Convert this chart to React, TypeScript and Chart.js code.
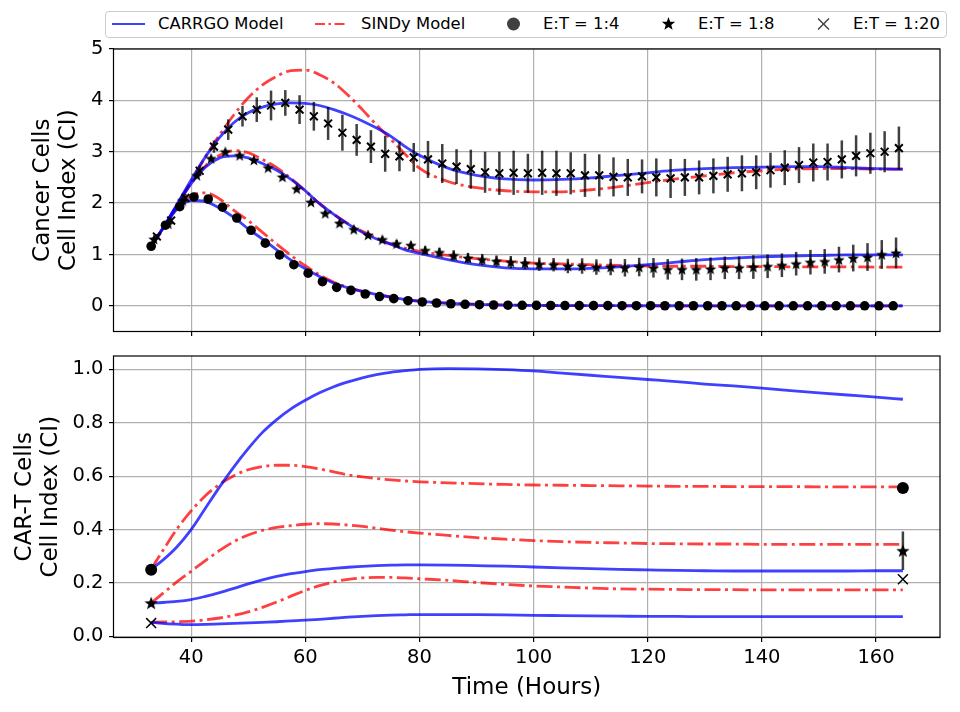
import React, { useEffect, useRef } from "react";
import { Chart, registerables } from "chart.js";

Chart.register(...registerables);
Chart.defaults.font.family = "DejaVu Sans";
Chart.defaults.color = "#000";

// ---- measured data (hours / cell index) ----
const TIME_4 = [33, 35.5, 38, 40.5, 43, 45.5, 48, 50.5, 53, 55.5, 58, 60.5, 63, 65.5, 68, 70.5, 73, 75.5, 78, 80.5, 83, 85.5, 88, 90.5, 93, 95.5, 98, 100.5, 103, 105.5, 108, 110.5, 113, 115.5, 118, 120.5, 123, 125.5, 128, 130.5, 133, 135.5, 138, 140.5, 143, 145.5, 148, 150.5, 153, 155.5, 158, 160.5, 163];
const TIME_8 = [33.5, 36, 38.5, 41, 43.5, 46, 48.5, 51, 53.5, 56, 58.5, 61, 63.5, 66, 68.5, 71, 73.5, 76, 78.5, 81, 83.5, 86, 88.5, 91, 93.5, 96, 98.5, 101, 103.5, 106, 108.5, 111, 113.5, 116, 118.5, 121, 123.5, 126, 128.5, 131, 133.5, 136, 138.5, 141, 143.5, 146, 148.5, 151, 153.5, 156, 158.5, 161, 163.5];
const TIME_20 = [34, 36.5, 39, 41.5, 44, 46.5, 49, 51.5, 54, 56.5, 59, 61.5, 64, 66.5, 69, 71.5, 74, 76.5, 79, 81.5, 84, 86.5, 89, 91.5, 94, 96.5, 99, 101.5, 104, 106.5, 109, 111.5, 114, 116.5, 119, 121.5, 124, 126.5, 129, 131.5, 134, 136.5, 139, 141.5, 144, 146.5, 149, 151.5, 154, 156.5, 159, 161.5, 164];

const CANCER_4 = [
  1.16, 1.57, 1.93, 2.12, 2.08, 1.92, 1.71, 1.47, 1.22, 0.99,
  0.8, 0.635, 0.47, 0.36, 0.3, 0.23, 0.18, 0.14, 0.1, 0.075,
  0.055, 0.04, 0.03, 0.022, 0.016, 0.012, 0.01, 0.008, 0.006, 0.005,
  0.004, 0.003, 0.003, 0.002, 0.002, 0.002, 0.001, 0.001, 0.001, 0.001,
  0.001, 0, 0, 0, 0, 0, 0, 0, 0, 0,
  0, 0, 0,
];
const CANCER_8 = [
  1.3, 1.6, 2.05, 2.54, 2.87, 3.0, 2.93, 2.84, 2.69, 2.51,
  2.28, 2.02, 1.8, 1.61, 1.49, 1.38, 1.29, 1.21, 1.18, 1.08,
  1.04, 0.98, 0.93, 0.9, 0.87, 0.85, 0.83, 0.81, 0.8, 0.775,
  0.775, 0.755, 0.755, 0.74, 0.755, 0.74, 0.71, 0.71, 0.71, 0.72,
  0.74, 0.74, 0.755, 0.77, 0.79, 0.82, 0.85, 0.865, 0.9, 0.93,
  0.95, 1.0, 1.03,
];
const CANCER_8_ERR = [
  0.04, 0.05, 0.05, 0.05, 0.05, 0.05, 0.05, 0.05, 0.05, 0.05,
  0.05, 0.05, 0.05, 0.05, 0.06, 0.06, 0.06, 0.07, 0.07, 0.08,
  0.09, 0.1, 0.1, 0.11, 0.11, 0.12, 0.12, 0.13, 0.13, 0.14,
  0.15, 0.15, 0.16, 0.17, 0.18, 0.19, 0.2, 0.21, 0.22, 0.22,
  0.22, 0.22, 0.23, 0.23, 0.23, 0.23, 0.24, 0.24, 0.25, 0.26,
  0.27, 0.28, 0.3,
];
const CANCER_20 = [
  1.35, 1.66, 2.1, 2.63, 3.1, 3.43, 3.69, 3.82, 3.9, 3.95,
  3.82, 3.69, 3.55, 3.37, 3.23, 3.1, 2.96, 2.91, 2.89, 2.85,
  2.77, 2.71, 2.66, 2.6, 2.58, 2.59, 2.58, 2.59, 2.58, 2.58,
  2.54, 2.54, 2.51, 2.5, 2.52, 2.5, 2.48, 2.5, 2.5, 2.53,
  2.56, 2.58, 2.6, 2.64, 2.69, 2.74, 2.79, 2.8, 2.85, 2.92,
  2.97, 3.0, 3.07,
];
const CANCER_20_ERR = [
  0.05, 0.06, 0.08, 0.1, 0.12, 0.2, 0.2, 0.24, 0.29, 0.25,
  0.28, 0.28, 0.32, 0.35, 0.31, 0.32, 0.35, 0.29, 0.28, 0.36,
  0.38, 0.34, 0.38, 0.4, 0.42, 0.43, 0.38, 0.43, 0.44, 0.41,
  0.42, 0.41, 0.38, 0.36, 0.33, 0.37, 0.38, 0.36, 0.33, 0.34,
  0.34, 0.35, 0.33, 0.34, 0.34, 0.35, 0.37, 0.36, 0.37, 0.4,
  0.4, 0.4, 0.42,
];

// model curves, sampled at MODEL_T
const MODEL_T = [33, 35, 37.5, 40, 42.5, 45, 47.5, 50, 52.5, 55, 57.5, 60, 62.5, 65, 67.5, 70, 72.5, 75, 77.5, 80, 85, 90, 95, 100, 105, 110, 115, 120, 125, 130, 135, 140, 145, 150, 155, 160, 164.7];

const CARRGO_CANCER_20 = [1.16, 1.5, 1.97, 2.45, 2.9, 3.28, 3.57, 3.76, 3.87, 3.93, 3.95, 3.94, 3.9, 3.82, 3.72, 3.6, 3.46, 3.3, 3.1, 2.93, 2.68, 2.54, 2.47, 2.45, 2.46, 2.49, 2.54, 2.59, 2.64, 2.67, 2.69, 2.7, 2.71, 2.71, 2.69, 2.67, 2.66];
const SINDY_CANCER_20 = [1.16, 1.48, 1.95, 2.42, 2.9, 3.33, 3.72, 4.05, 4.3, 4.47, 4.58, 4.59, 4.5, 4.34, 4.1, 3.82, 3.52, 3.24, 2.95, 2.68, 2.42, 2.3, 2.24, 2.22, 2.22, 2.26, 2.32, 2.4, 2.47, 2.53, 2.59, 2.63, 2.66, 2.67, 2.67, 2.66, 2.66];
const CARRGO_CANCER_8 = [1.16, 1.5, 1.96, 2.38, 2.7, 2.88, 2.92, 2.88, 2.77, 2.64, 2.46, 2.24, 1.99, 1.78, 1.59, 1.43, 1.3, 1.2, 1.09, 1.02, 0.9, 0.8, 0.74, 0.72, 0.72, 0.73, 0.76, 0.8, 0.85, 0.9, 0.93, 0.955, 0.97, 0.98, 0.99, 0.99, 0.99];
const SINDY_CANCER_8 = [1.16, 1.48, 1.95, 2.38, 2.72, 2.93, 3.02, 2.98, 2.85, 2.69, 2.48, 2.24, 1.99, 1.78, 1.6, 1.45, 1.32, 1.2, 1.12, 1.06, 0.98, 0.92, 0.87, 0.83, 0.815, 0.8, 0.785, 0.775, 0.77, 0.77, 0.765, 0.765, 0.76, 0.76, 0.76, 0.755, 0.755];
const CARRGO_CANCER_4 = [1.16, 1.5, 1.88, 2.05, 2.03, 1.9, 1.72, 1.5, 1.3, 1.09, 0.89, 0.72, 0.57, 0.44, 0.35, 0.28, 0.22, 0.17, 0.12, 0.09, 0.05, 0.03, 0.015, 0.008, 0.004, 0.003, 0.002, 0.001, 0.001, 0, 0, 0, 0, 0, 0, 0, 0];
const SINDY_CANCER_4 = [1.16, 1.5, 1.9, 2.14, 2.2, 2.08, 1.86, 1.66, 1.43, 1.2, 0.98, 0.78, 0.6, 0.46, 0.36, 0.28, 0.22, 0.17, 0.12, 0.09, 0.05, 0.03, 0.015, 0.008, 0.004, 0.003, 0.002, 0.001, 0.001, 0, 0, 0, 0, 0, 0, 0, 0];

const CARRGO_CART_4 = [0.252, 0.285, 0.335, 0.4, 0.48, 0.56, 0.635, 0.703, 0.764, 0.812, 0.852, 0.884, 0.912, 0.935, 0.953, 0.968, 0.98, 0.989, 0.995, 1.0, 1.003, 1.002, 0.999, 0.994, 0.986, 0.978, 0.97, 0.962, 0.954, 0.945, 0.938, 0.93, 0.92, 0.912, 0.904, 0.896, 0.888];
const SINDY_CART_4 = [0.252, 0.32, 0.402, 0.47, 0.527, 0.57, 0.602, 0.624, 0.636, 0.641, 0.641, 0.636, 0.627, 0.616, 0.605, 0.597, 0.591, 0.586, 0.582, 0.579, 0.575, 0.572, 0.569, 0.567, 0.566, 0.565, 0.564, 0.563, 0.562, 0.562, 0.561, 0.561, 0.561, 0.56, 0.56, 0.56, 0.56];
const CARRGO_CART_8 = [0.125, 0.127, 0.131, 0.138, 0.15, 0.164, 0.18, 0.197, 0.212, 0.225, 0.235, 0.243, 0.25, 0.255, 0.259, 0.262, 0.265, 0.267, 0.268, 0.268, 0.267, 0.265, 0.263, 0.26, 0.257, 0.254, 0.251, 0.249, 0.247, 0.246, 0.245, 0.245, 0.245, 0.245, 0.245, 0.246, 0.246];
const SINDY_CART_8 = [0.125, 0.16, 0.204, 0.244, 0.284, 0.322, 0.355, 0.38, 0.397, 0.408, 0.415, 0.42, 0.422, 0.421, 0.417, 0.412, 0.405, 0.398, 0.392, 0.387, 0.378, 0.37, 0.364, 0.359, 0.355, 0.352, 0.35, 0.348, 0.347, 0.346, 0.346, 0.345, 0.345, 0.345, 0.345, 0.345, 0.345];
const CARRGO_CART_20 = [0.053, 0.049, 0.046, 0.044, 0.045, 0.047, 0.049, 0.051, 0.053, 0.055, 0.058, 0.061, 0.064, 0.068, 0.072, 0.075, 0.078, 0.08, 0.081, 0.082, 0.082, 0.082, 0.081, 0.079, 0.078, 0.077, 0.076, 0.075, 0.075, 0.074, 0.074, 0.074, 0.074, 0.074, 0.074, 0.074, 0.074];
const SINDY_CART_20 = [0.053, 0.054, 0.055, 0.057, 0.062, 0.069, 0.079, 0.092, 0.109, 0.129, 0.151, 0.172, 0.19, 0.204, 0.214, 0.219, 0.221, 0.221, 0.219, 0.216, 0.21, 0.202, 0.195, 0.189, 0.185, 0.181, 0.178, 0.177, 0.176, 0.175, 0.175, 0.174, 0.174, 0.174, 0.174, 0.174, 0.174];

// CAR-T measurements (start and end only)
const CART_T = [33, 164.7];
const CART_4 = [0.25, 0.556];
const CART_8 = [0.125, 0.321];
const CART_8_ERR = [0, 0.072];
const CART_20 = [0.05, 0.214];

const X_TICKS = [40, 60, 80, 100, 120, 140, 160];
const CANCER_TICKS = [0, 1, 2, 3, 4, 5];
const CART_TICKS = [0, 0.2, 0.4, 0.6, 0.8, 1.0];
const LEGEND_LABELS = ["CARRGO Model", "SINDy Model", "E:T = 1:4", "E:T = 1:8", "E:T = 1:20"];

const BLUE = "rgba(0, 0, 255, 0.75)";
const RED = "rgba(255, 0, 0, 0.75)";
const DASHDOT = [16, 4.5, 3, 4.5];
const GRID = { color: "#b0b0b0", lineWidth: 1.2, tickColor: "#000", tickLength: 4.5, tickWidth: 1.2 };

const pts = (xs: number[], ys: number[]) => xs.map((x, i) => ({ x, y: ys[i] }));

function makeStar(size: number) {
  const c = document.createElement("canvas");
  c.width = size;
  c.height = size;
  const g = c.getContext("2d")!;
  const R = size / 2;
  const r = R * 0.42;
  g.beginPath();
  for (let k = 0; k < 10; k++) {
    const rad = k % 2 === 0 ? R : r;
    const a = -Math.PI / 2 + (k * Math.PI) / 5;
    const px = R + rad * Math.cos(a);
    const py = R + 0.6 + rad * Math.sin(a);
    if (k === 0) g.moveTo(px, py);
    else g.lineTo(px, py);
  }
  g.closePath();
  g.fillStyle = "#000";
  g.fill();
  return c;
}

const modelLine = (ys: number[], sindy: boolean) => ({
  type: "line",
  data: pts(MODEL_T, ys),
  borderColor: sindy ? RED : BLUE,
  borderWidth: 2.8,
  borderDash: sindy ? DASHDOT : [],
  pointRadius: 0,
  cubicInterpolationMode: "monotone",
  fill: false,
  order: 2,
});

// vertical error bars, drawn just before the marker dataset they belong to
const errorBars = {
  id: "errorBars",
  beforeDatasetDraw(chart: any, args: any) {
    const ds = chart.data.datasets[args.index];
    if (!ds.yErr) return;
    const { ctx, scales } = chart;
    ctx.save();
    ctx.strokeStyle = "rgba(0,0,0,0.75)";
    ctx.lineWidth = 2.5;
    ds.data.forEach((p: any, i: number) => {
      const e = ds.yErr[i];
      if (!e) return;
      const px = scales.x.getPixelForValue(p.x);
      ctx.beginPath();
      ctx.moveTo(px, scales.y.getPixelForValue(p.y - e));
      ctx.lineTo(px, scales.y.getPixelForValue(p.y + e));
      ctx.stroke();
    });
    ctx.restore();
  },
};

const frame = {
  id: "frame",
  afterDraw(chart: any) {
    const { ctx, chartArea: a } = chart;
    ctx.save();
    ctx.strokeStyle = "#000";
    ctx.lineWidth = 1.2;
    ctx.strokeRect(a.left, a.top, a.right - a.left, a.bottom - a.top);
    ctx.restore();
  },
};

const X_MIN = 26.4;
const X_MAX = 171.2;

function xAxis(labels: boolean) {
  return {
    type: "linear",
    min: X_MIN,
    max: X_MAX,
    afterBuildTicks: (s: any) => { s.ticks = X_TICKS.map((value) => ({ value })); },
    afterFit: (s: any) => { s.height = labels ? 74.5 : 13.5; s.paddingLeft = 0; s.paddingRight = 0; },
    grid: GRID,
    border: { display: false },
    ticks: { display: labels, padding: 4, font: { size: 19.5 }, color: "#000", callback: (v: any) => String(v) },
    title: { display: labels, text: "Time (Hours)", color: "#000", font: { size: 23, lineHeight: 1.15 }, padding: { top: 0, bottom: 10.8 } },
  };
}

function yAxis(min: number, max: number, ticks: number[], title: string[], fmt: (v: any) => string, titlePad: number) {
  return {
    type: "linear",
    min,
    max,
    afterBuildTicks: (s: any) => { s.ticks = ticks.map((value) => ({ value })); },
    afterFit: (s: any) => { s.width = 113.5; s.paddingTop = 0; s.paddingBottom = 0; },
    grid: GRID,
    border: { display: false },
    ticks: { padding: 5.5, font: { size: 19.5 }, color: "#000", callback: fmt },
    title: { display: true, text: title, color: "#000", font: { size: 23, lineHeight: 1.12 }, padding: { top: titlePad, bottom: 0 } },
  };
}

const baseOptions = {
  responsive: false,
  animation: false,
  events: [],
  plugins: { legend: { display: false }, tooltip: { enabled: false } },
};

function Legend() {
  const cols = [112, 315, 497, 652, 807];
  const kinds = ["carrgo", "sindy", "dot", "star", "cross"];
  const starPts = Array.from({ length: 10 }, (_, k) => {
    const rad = k % 2 === 0 ? 7 : 2.9;
    const a = -Math.PI / 2 + (k * Math.PI) / 5;
    return `${16.5 + rad * Math.cos(a)},${11 + rad * Math.sin(a)}`;
  }).join(" ");
  return (
    <div style={{ position: "absolute", left: 105, top: 11, width: 840, height: 25, border: "1px solid #cccccc", borderRadius: 4, background: "#fff" }}>
      {LEGEND_LABELS.map((label, i) => (
        <div key={label} style={{ position: "absolute", left: cols[i] - 106, top: 1, height: 22, display: "flex", alignItems: "center", whiteSpace: "nowrap" }}>
          <svg width={33} height={22} style={{ display: "block" }}>
            {kinds[i] === "carrgo" && <line x1={0} x2={33} y1={11} y2={11} stroke={BLUE} strokeWidth={2.2} />}
            {kinds[i] === "sindy" && <line x1={0} x2={33} y1={11} y2={11} stroke={RED} strokeWidth={2.2} strokeDasharray="10 3.5 2.5 3.5" />}
            {kinds[i] === "dot" && <circle cx={16.5} cy={11} r={6.5} fill="#404040" />}
            {kinds[i] === "star" && <polygon points={starPts} fill="#000" />}
            {kinds[i] === "cross" && (
              <g stroke="#404040" strokeWidth={1.4}>
                <line x1={11} y1={5.5} x2={22} y2={16.5} />
                <line x1={22} y1={5.5} x2={11} y2={16.5} />
              </g>
            )}
          </svg>
          <span style={{ marginLeft: 13, fontFamily: "DejaVu Sans", fontSize: 16.4, color: "#000", lineHeight: "22px" }}>{label}</span>
        </div>
      ))}
    </div>
  );
}

export default function App() {
  const topRef = useRef<HTMLCanvasElement>(null);
  const botRef = useRef<HTMLCanvasElement>(null);

  useEffect(() => {
    if (!topRef.current || !botRef.current) return;
    const star = makeStar(12);
    const bigStar = makeStar(14);

    const top = new Chart(topRef.current, {
      type: "scatter",
      data: {
        datasets: [
          { data: pts(TIME_4, CANCER_4), pointStyle: "circle", pointRadius: 4.8, backgroundColor: "#000", borderWidth: 0, order: 0 },
          { data: pts(TIME_8, CANCER_8), yErr: CANCER_8_ERR, pointStyle: star, pointRadius: 5, backgroundColor: "#000", order: 0 },
          { data: pts(TIME_20, CANCER_20), yErr: CANCER_20_ERR, pointStyle: "crossRot", pointRadius: 5.5, borderColor: "#000", borderWidth: 2, order: 0 },
          modelLine(CARRGO_CANCER_4, false),
          modelLine(CARRGO_CANCER_8, false),
          modelLine(CARRGO_CANCER_20, false),
          modelLine(SINDY_CANCER_4, true),
          modelLine(SINDY_CANCER_8, true),
          modelLine(SINDY_CANCER_20, true),
        ] as any,
      },
      options: {
        ...baseOptions,
        layout: { padding: { top: 49, right: 20, left: 0, bottom: 0 } },
        scales: {
          x: xAxis(false),
          y: yAxis(-0.5, 5, CANCER_TICKS, ["Cancer Cells", "Cell Index (CI)"], (v: any) => String(v), 30),
        },
      } as any,
      plugins: [errorBars, frame],
    });

    const bottom = new Chart(botRef.current, {
      type: "scatter",
      data: {
        datasets: [
          { data: pts(CART_T, CART_4), pointStyle: "circle", pointRadius: 6, backgroundColor: "#000", borderWidth: 0, order: 0 },
          { data: pts(CART_T, CART_8), yErr: CART_8_ERR, pointStyle: bigStar, pointRadius: 6, backgroundColor: "#000", order: 0 },
          { data: pts(CART_T, CART_20), pointStyle: "crossRot", pointRadius: 7, borderColor: "#000", borderWidth: 1.5, order: 0 },
          modelLine(CARRGO_CART_4, false),
          modelLine(CARRGO_CART_8, false),
          modelLine(CARRGO_CART_20, false),
          modelLine(SINDY_CART_4, true),
          modelLine(SINDY_CART_8, true),
          modelLine(SINDY_CART_20, true),
        ] as any,
      },
      options: {
        ...baseOptions,
        layout: { padding: { top: 26, right: 20, left: 0, bottom: 0 } },
        scales: {
          x: xAxis(true),
          y: yAxis(-0.004, 1.05, CART_TICKS, ["CAR-T Cells", "Cell Index (CI)"], (v: any) => Number(v).toFixed(1), 12),
        },
      } as any,
      plugins: [errorBars, frame],
    });

    return () => {
      top.destroy();
      bottom.destroy();
    };
  }, []);

  return (
    <div style={{ position: "fixed", left: 0, top: 0, width: 960, height: 712, background: "#fff", overflow: "hidden" }}>
      <canvas ref={topRef} width={960} height={345} style={{ position: "absolute", left: 0, top: 0 }} />
      <canvas ref={botRef} width={960} height={382} style={{ position: "absolute", left: 0, top: 330 }} />
      <Legend />
    </div>
  );
}
